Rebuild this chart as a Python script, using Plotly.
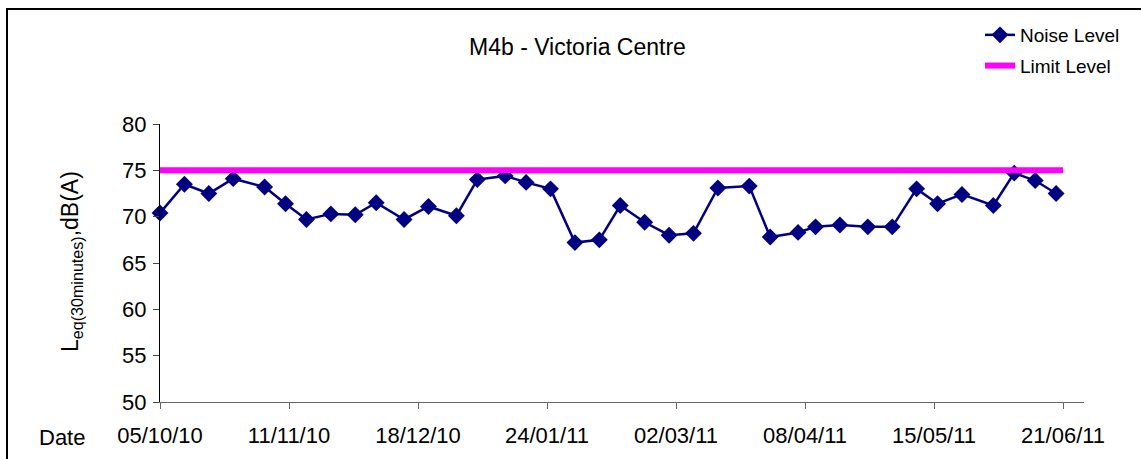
import datetime as dt
import plotly.graph_objects as go

# ---- data ----
start_date = "2010-10-05"
day_offsets = [-7, 0, 7, 14, 21, 30, 36, 42, 49, 56, 62, 70, 77, 85, 91, 99, 105, 112, 119,
               126, 132, 139, 146, 153, 160, 169, 175, 183, 188, 195, 203, 210, 217,
               223, 230, 239, 245, 251, 257]
noise_level = [75.5, 70.4, 73.5, 72.5, 74.1, 73.2, 71.4, 69.7, 70.3, 70.2, 71.5, 69.7, 71.1, 70.1,
               74.0, 74.4, 73.7, 73.0, 67.2, 67.5, 71.2, 69.4, 68.0, 68.2, 73.1, 73.3,
               67.8, 68.3, 68.9, 69.1, 68.9, 68.9, 73.0, 71.4, 72.4, 71.2, 74.7, 73.9, 72.5]
limit_dates = ["2010-09-28", "2011-06-21"]
limit_level = [75, 75]
x_range = ["2010-10-05", "2011-06-27"]
y_range = [50, 80]
tick_step_days = 37

base = dt.date.fromisoformat(start_date)
noise_dates = [(base + dt.timedelta(days=d)).isoformat() for d in day_offsets]

W, H = 1141, 459
L, R, T, B = 160, 57, 124, 57
pw, ph = W - L - R, H - T - B

def px(x):
    return (x - L) / pw

def py(y):
    return (H - B - y) / ph

font = "Liberation Sans, Arial, sans-serif"

fig = go.Figure()
fig.add_trace(go.Scatter(
    x=noise_dates, y=noise_level, name="Noise Level", mode="lines+markers",
    line=dict(color="#000080", width=2.5),
    marker=dict(symbol="diamond", size=13, color="#000080"),
    cliponaxis=False, legendgroup="a"))
fig.add_trace(go.Scatter(
    x=limit_dates, y=limit_level, name="Limit Level", mode="lines",
    line=dict(color="#FF00FF", width=6), legendgroup="b"))

fig.update_layout(
    width=W, height=H,
    margin=dict(l=L, r=R, t=T, b=B, autoexpand=False),
    paper_bgcolor="white", plot_bgcolor="white",
    font=dict(family=font, color="black", size=20),
    showlegend=True,
    legend=dict(x=px(980), y=py(16), xanchor="left", yanchor="top",
                font=dict(size=19), tracegroupgap=3, bgcolor="rgba(0,0,0,0)"),
    xaxis=dict(type="date", range=x_range, tick0=start_date,
               dtick=tick_step_days * 86400000, tickformat="%d/%m/%y",
               showgrid=False, zeroline=False, showline=True, linecolor="#666",
               linewidth=1, ticks="outside", ticklen=6, tickcolor="#666",
               ticklabelstandoff=8, tickfont=dict(size=22)),
    yaxis=dict(range=y_range, dtick=5, showgrid=False, zeroline=False,
               showline=True, linecolor="black", linewidth=1, ticks="outside",
               ticklen=6, ticklabelstandoff=2, tickfont=dict(size=22)),
    annotations=[
        dict(text="M4b - Victoria Centre", x=px(577), y=py(47), xref="paper", yref="paper",
             showarrow=False, font=dict(size=23), xanchor="center", yanchor="middle"),
        dict(text="Date", x=px(62), y=py(437), xref="paper", yref="paper",
             showarrow=False, font=dict(size=22), xanchor="center", yanchor="middle"),
        dict(text="L<sub>eq(30minutes)</sub>,dB(A)", x=px(71), y=py(262),
             xref="paper", yref="paper", textangle=-90, showarrow=False,
             font=dict(size=23), xanchor="center", yanchor="middle"),
    ],
    shapes=[dict(type="rect", xref="paper", yref="paper",
                 x0=px(7), x1=px(W + 10), y0=py(9), y1=py(H + 10),
                 line=dict(color="black", width=2), fillcolor="rgba(0,0,0,0)")],
)

fig.write_html("out.html", config={"displayModeBar": False},
               post_script="document.body.style.margin='0';")
